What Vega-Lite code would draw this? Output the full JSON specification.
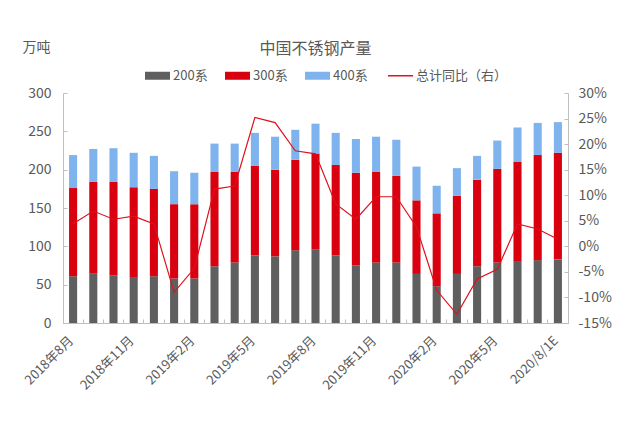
{
  "$schema": "https://vega.github.io/schema/vega-lite/v6.json",
  "width": 505,
  "height": 230,
  "autosize": {"type": "none"},
  "padding": {"left": 63, "top": 93, "right": 64, "bottom": 106},
  "background": "white",
  "title": {
    "text": "中国不锈钢产量",
    "anchor": "middle",
    "fontSize": 16,
    "fontWeight": "normal",
    "color": "#595959",
    "offset": -17
  },
  "data": {
    "values": [
      {"month": "2018年8月", "200系": 61, "300系": 115, "400系": 43, "yoy": 4.4},
      {"month": "2018年9月", "200系": 65, "300系": 119, "400系": 43, "yoy": 6.9},
      {"month": "2018年10月", "200系": 62, "300系": 122, "400系": 44, "yoy": 5.3},
      {"month": "2018年11月", "200系": 60, "300系": 117, "400系": 45, "yoy": 5.9},
      {"month": "2018年12月", "200系": 61, "300系": 114, "400系": 43, "yoy": 4.4},
      {"month": "2019年1月", "200系": 58, "300系": 97, "400系": 43, "yoy": -9.0},
      {"month": "2019年2月", "200系": 58, "300系": 97, "400系": 41, "yoy": -4.3},
      {"month": "2019年3月", "200系": 74, "300系": 123, "400系": 37, "yoy": 11.2},
      {"month": "2019年4月", "200系": 79, "300系": 118, "400系": 37, "yoy": 11.8},
      {"month": "2019年5月", "200系": 88, "300系": 117, "400系": 43, "yoy": 25.2},
      {"month": "2019年6月", "200系": 87, "300系": 113, "400系": 43, "yoy": 24.2},
      {"month": "2019年7月", "200系": 95, "300系": 118, "400系": 39, "yoy": 18.7},
      {"month": "2019年8月", "200系": 96, "300系": 125, "400系": 39, "yoy": 18.1},
      {"month": "2019年9月", "200系": 88, "300系": 118, "400系": 42, "yoy": 8.3},
      {"month": "2019年10月", "200系": 75, "300系": 121, "400系": 44, "yoy": 5.3},
      {"month": "2019年11月", "200系": 79, "300系": 118, "400系": 46, "yoy": 9.7},
      {"month": "2019年12月", "200系": 79, "300系": 113, "400系": 47, "yoy": 9.7},
      {"month": "2020年1月", "200系": 64, "300系": 96, "400系": 44, "yoy": 3.8},
      {"month": "2020年2月", "200系": 48, "300系": 95, "400系": 36, "yoy": -8.6},
      {"month": "2020年3月", "200系": 64, "300系": 102, "400系": 36, "yoy": -13.3},
      {"month": "2020年4月", "200系": 74, "300系": 113, "400系": 31, "yoy": -6.4},
      {"month": "2020年5月", "200系": 79, "300系": 122, "400系": 37, "yoy": -4.5},
      {"month": "2020年6月", "200系": 81, "300系": 129, "400系": 45, "yoy": 4.4},
      {"month": "2020年7月", "200系": 82, "300系": 137, "400系": 42, "yoy": 3.4},
      {"month": "2020/8/1E", "200系": 83, "300系": 139, "400系": 40, "yoy": 1.4}
    ]
  },
  "encoding": {
    "x": {
      "field": "month",
      "type": "ordinal",
      "sort": null,
      "scale": {"paddingInner": 0.6, "paddingOuter": 0.3},
      "axis": {
        "title": null,
        "labelAngle": -45,
        "labelOverlap": false,
        "labelFontSize": 13,
        "labelColor": "#595959",
        "labelPadding": 15,
        "labelOffset": -6,
        "labelExpr": "indexof(['2018年8月','2018年11月','2019年2月','2019年5月','2019年8月','2019年11月','2020年2月','2020年5月','2020/8/1E'], datum.value) >= 0 ? datum.value : ''",
        "bandPosition": -0.75,
        "tickSize": -4,
        "tickColor": "#bfbfbf",
        "domainColor": "#bfbfbf"
      }
    }
  },
  "layer": [
    {
      "transform": [{"fold": ["200系", "300系", "400系"], "as": ["series", "value"]}],
      "mark": {"type": "bar"},
      "encoding": {
        "y": {
          "field": "value",
          "type": "quantitative",
          "stack": "zero",
          "scale": {"domain": [0, 300], "nice": false},
          "axis": {
            "title": "万吨",
            "titleAngle": 0,
            "titleAlign": "left",
            "titleBaseline": "top",
            "titleX": -41,
            "titleY": -53,
            "titleFontSize": 14,
            "titleFontWeight": "normal",
            "titleColor": "#595959",
            "values": [0, 50, 100, 150, 200, 250, 300],
            "grid": false,
            "labelFontSize": 14,
            "labelColor": "#595959",
            "labelPadding": 16,
            "tickSize": -4,
            "tickColor": "#bfbfbf",
            "domainColor": "#bfbfbf"
          }
        },
        "color": {
          "field": "series",
          "type": "nominal",
          "scale": {
            "domain": ["200系", "300系", "400系", "总计同比（右）"],
            "range": ["#5f5f5f", "#d9000f", "#7fb3ee", "#e0101c"]
          },
          "legend": {
            "title": null,
            "orient": "none",
            "direction": "horizontal",
            "legendX": 88,
            "legendY": -24,
            "labelFontSize": 13,
            "labelColor": "#595959",
            "labelOffset": 9,
            "columnPadding": 17,
            "symbolSize": 625,
            "encode": {
              "symbols": {
                "update": {
                  "shape": {"signal": "datum.value === '总计同比（右）' ? 'stroke' : 'M-1,-0.32H1V0.32H-1Z'"},
                  "fill": {"signal": "datum.value === '总计同比（右）' ? 'transparent' : scale('color', datum.value)"},
                  "stroke": {"signal": "scale('color', datum.value)"},
                  "strokeWidth": {"signal": "datum.value === '总计同比（右）' ? 1.5 : 0"},
                  "opacity": {"value": 1}
                }
              }
            }
          }
        },
        "order": {"field": "series", "sort": "ascending"}
      }
    },
    {
      "mark": {"type": "line", "strokeWidth": 1.2},
      "encoding": {
        "y": {
          "field": "yoy",
          "type": "quantitative",
          "scale": {"domain": [-15, 30], "nice": false},
          "axis": {
            "orient": "right",
            "title": null,
            "values": [-15, -10, -5, 0, 5, 10, 15, 20, 25, 30],
            "labelExpr": "datum.value + '%'",
            "grid": false,
            "labelFontSize": 14,
            "labelColor": "#595959",
            "labelPadding": 14,
            "tickSize": -4,
            "tickColor": "#bfbfbf",
            "domainColor": "#bfbfbf"
          }
        },
        "color": {"datum": "总计同比（右）"}
      }
    }
  ],
  "resolve": {"scale": {"y": "independent"}},
  "config": {
    "font": "Noto Sans CJK SC",
    "view": {"stroke": null}
  }
}
